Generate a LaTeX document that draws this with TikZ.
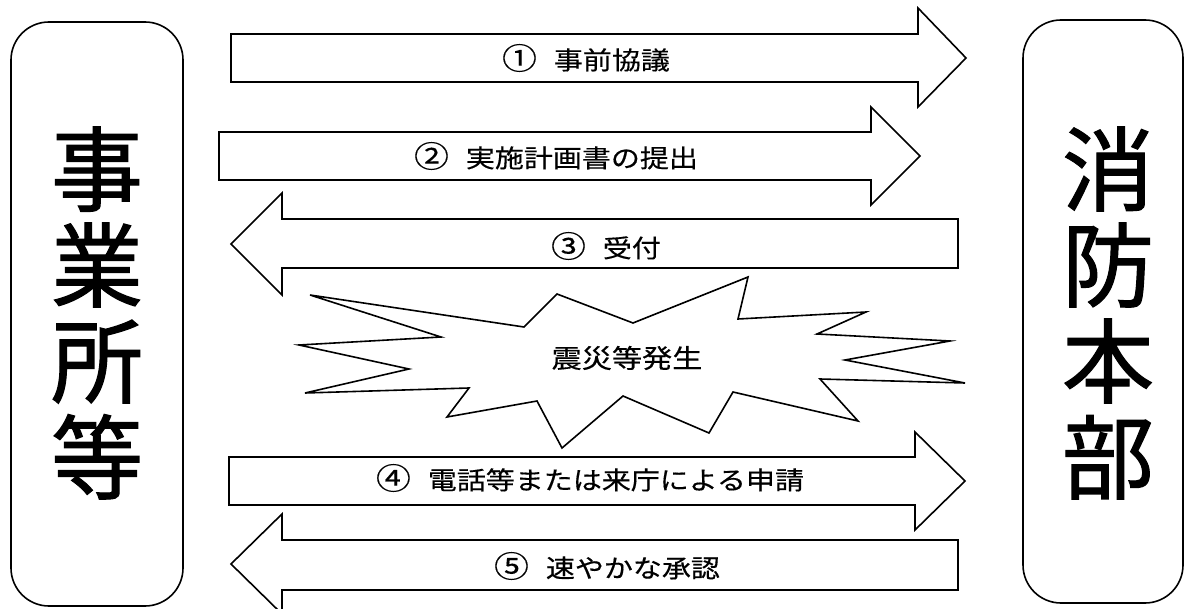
\documentclass[tikz,border=0pt]{standalone}
\usepackage{fontspec}
\newfontfamily\jpbig[FakeBold=1.2]{Noto Sans CJK JP}
\newfontfamily\jplbl[FakeStretch=1.16,FakeBold=0.4]{Noto Sans CJK JP}
\newcommand{\circnum}[1]{{\fontsize{30}{30}\selectfont #1}}
\begin{document}
\begin{tikzpicture}[x=1pt,y=-1pt,
  outline/.style={draw=black,line width=1.6pt,line join=miter,fill=white},
  party/.style={draw=black,line width=1.6pt,rounded corners=38pt,fill=white},
  bigtext/.style={font=\jpbig\fontsize{92}{96}\selectfont,align=center,inner sep=0pt},
  lbl/.style={font=\jplbl\fontsize{25}{28}\selectfont,inner sep=0pt},
  burst/.style={font=\jplbl\fontsize{26}{30}\selectfont,inner sep=0pt}]
\useasboundingbox (0,0) rectangle (1185,609);
\clip (0,0) rectangle (1185,609);
% parties
\draw[party] (11,22) rectangle (183,606);
\draw[party] (1023,20) rectangle (1183,603);
\node[bigtext] (left) at (97,313) {事\\業\\所\\等};
\node[bigtext] (right) at (1108,313) {消\\防\\本\\部};
% arrows
\draw[outline] (231,34) -- (918,34) -- (918,8) -- (966,58) -- (918,107) -- (918,82) -- (231,82) -- cycle;
\draw[outline] (219,132) -- (871,132) -- (871,107) -- (920,156) -- (871,205) -- (871,180) -- (219,180) -- cycle;
\draw[outline] (958,219) -- (282,219) -- (282,193) -- (231,244) -- (282,295) -- (282,268) -- (958,268) -- cycle;
\draw[outline] (229,457) -- (915,457) -- (915,432) -- (965,481) -- (915,530) -- (915,505) -- (229,505) -- cycle;
\draw[outline] (958,540) -- (282,540) -- (282,514) -- (231,564) -- (282,614) -- (282,590) -- (958,590) -- cycle;
% labels
\node[lbl] (l1) at (586,58) {\circnum{①}\hspace{17pt}事前協議};
\node[lbl] (l2) at (556,156) {\circnum{②}\hspace{17pt}実施計画書の提出};
\node[lbl] (l3) at (606,246) {\circnum{③}\hspace{17pt}受付};
\node[lbl] (l4) at (590,478) {\circnum{④}\hspace{17pt}電話等または来庁による申請};
\node[lbl] (l5) at (607,566) {\circnum{⑤}\hspace{17pt}速やかな承認};
% starburst
\draw[outline] (310,295) -- (524,327) -- (557,294) -- (633,323) -- (748,277) -- (738,319) -- (866,312) -- (817,334) -- (950,341) -- (845,360) -- (965,383) -- (820,379) -- (858,421) -- (733,392) -- (709,433) -- (623,396) -- (562,448) -- (537,401) -- (447,417) -- (469,388) -- (305,393) -- (409,369) -- (299,345) -- (441,337) -- cycle;
\node[burst] (quake) at (627,358) {震災等発生};
\end{tikzpicture}
\end{document}
